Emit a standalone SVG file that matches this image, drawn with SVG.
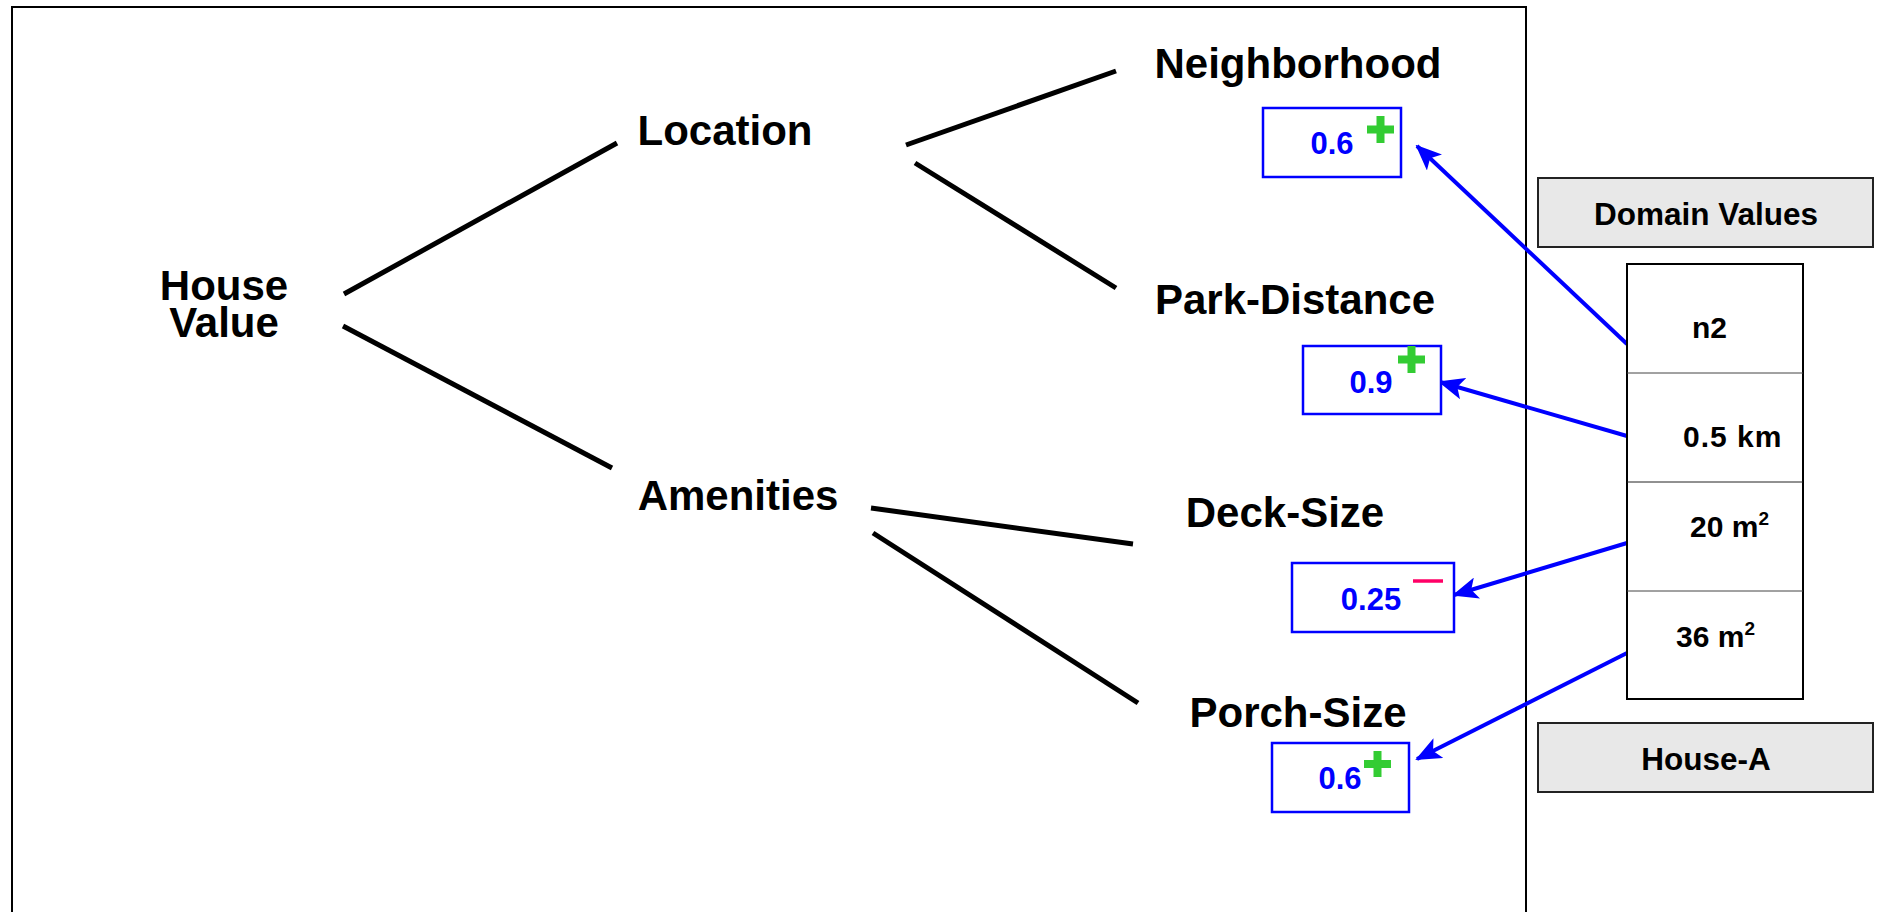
<svg xmlns="http://www.w3.org/2000/svg" width="1879" height="912" viewBox="0 0 1879 912">
  <style>
    .lbl { font-family: "Liberation Sans", Arial, sans-serif; font-weight: bold; fill: #000; }
    .big { font-size: 42px; text-anchor: middle; }
    .val { font-family: "Liberation Sans", Arial, sans-serif; font-weight: bold; font-size: 31px; fill: #0000FF; text-anchor: middle; }
    .vbox { fill: #fff; stroke: #0000FF; stroke-width: 2.5; }
    .gbox { fill: #E8E8E8; stroke: #222; stroke-width: 2; }
    .tree { stroke: #000; stroke-width: 5; fill: none; }
    .link { stroke: #0000FF; stroke-width: 4; fill: none; marker-end: url(#arrow); }
    .plus { stroke: #33CC33; stroke-width: 8; fill: none; }
    .minus { stroke: #FF0066; stroke-width: 3.5; fill: none; }
    .cell { font-size: 30px; }
    .sup { font-size: 19px; }
    .head { font-size: 31.5px; text-anchor: middle; }
  </style>
  <defs>
    <marker id="arrow" markerUnits="userSpaceOnUse" markerWidth="26" markerHeight="22" refX="24" refY="11" orient="auto">
      <path d="M0,0 L26,11 L0,22 L6,11 Z" fill="#0000FF"/>
    </marker>
  </defs>

  <rect width="1879" height="912" fill="#fff"/>

  <!-- outer frame (open at the bottom) -->
  <path d="M12,920 L12,7 L1526,7 L1526,920" fill="none" stroke="#000" stroke-width="2"/>

  <!-- tree edges and value links -->
  <g id="connectors">
    <line class="tree" x1="344" y1="294" x2="617" y2="143"/>
    <line class="tree" x1="343" y1="326" x2="612" y2="468"/>
    <line class="tree" x1="906" y1="145" x2="1116" y2="71"/>
    <line class="tree" x1="915" y1="163" x2="1116" y2="288"/>
    <line class="tree" x1="871" y1="508" x2="1133" y2="544"/>
    <line class="tree" x1="873" y1="533" x2="1138" y2="703"/>

    <line class="link" x1="1627" y1="344" x2="1417" y2="146"/>
    <line class="link" x1="1627" y1="436" x2="1440" y2="382"/>
    <line class="link" x1="1627" y1="543" x2="1454" y2="595"/>
    <line class="link" x1="1627" y1="653" x2="1417" y2="759"/>
  </g>

  <g id="house-value">
    <text class="lbl big" x="224" y="300">House<tspan x="224" y="337">Value</tspan></text>
  </g>
  <g id="location">
    <text class="lbl big" x="725" y="145">Location</text>
  </g>
  <g id="amenities">
    <text class="lbl big" x="738" y="510">Amenities</text>
  </g>

  <g id="neighborhood">
    <text class="lbl big" x="1298" y="78">Neighborhood</text>
    <rect class="vbox" x="1263" y="108" width="138" height="69"/>
    <text class="val" x="1332" y="154">0.6</text>
    <path class="plus" d="M1367,129.5 H1394 M1380.5,116 V143"/>
  </g>

  <g id="park-distance">
    <text class="lbl big" x="1295" y="314">Park-Distance</text>
    <rect class="vbox" x="1303" y="346" width="138" height="68"/>
    <text class="val" x="1371" y="393">0.9</text>
    <path class="plus" d="M1398,359.5 H1425 M1411.5,346 V373"/>
  </g>

  <g id="deck-size">
    <text class="lbl big" x="1285" y="527">Deck-Size</text>
    <rect class="vbox" x="1292" y="563" width="162" height="69"/>
    <text class="val" x="1371" y="610">0.25</text>
    <line class="minus" x1="1413" y1="581" x2="1443" y2="581"/>
  </g>

  <g id="porch-size">
    <text class="lbl big" x="1298" y="727">Porch-Size</text>
    <rect class="vbox" x="1272" y="743" width="137" height="69"/>
    <text class="val" x="1340" y="789">0.6</text>
    <path class="plus" d="M1364,764 H1391 M1377.5,751 V777"/>
  </g>

  <g id="domain-values">
    <rect class="gbox" x="1538" y="178" width="335" height="69"/>
    <text class="lbl head" x="1706" y="225">Domain Values</text>
  </g>

  <g id="house-a-values">
    <rect x="1627" y="264" width="176" height="435" fill="#fff" stroke="#000" stroke-width="2"/>
    <line x1="1627" y1="373" x2="1803" y2="373" stroke="#444" stroke-width="1"/>
    <line x1="1627" y1="482" x2="1803" y2="482" stroke="#222" stroke-width="1"/>
    <line x1="1627" y1="591" x2="1803" y2="591" stroke="#444" stroke-width="1"/>
    <text class="lbl cell" x="1692" y="338">n2</text>
    <text class="lbl cell" x="1683" y="447" letter-spacing="1">0.5 km</text>
    <text class="lbl cell" x="1690" y="537">20 m<tspan class="sup" dy="-12">2</tspan></text>
    <text class="lbl cell" x="1676" y="647">36 m<tspan class="sup" dy="-12">2</tspan></text>
  </g>

  <g id="house-a">
    <rect class="gbox" x="1538" y="723" width="335" height="69"/>
    <text class="lbl head" x="1706" y="770">House-A</text>
  </g>
</svg>
